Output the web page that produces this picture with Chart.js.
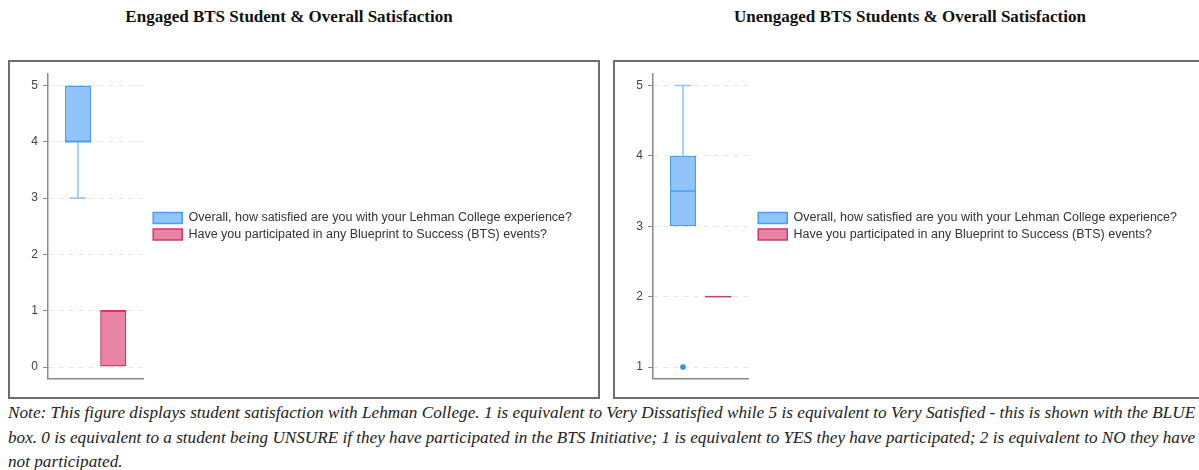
<!DOCTYPE html>
<html>
<head>
<meta charset="utf-8">
<script src="https://cdn.jsdelivr.net/npm/chart.js@4.4.1/dist/chart.umd.min.js"></script>
<style>
  html, body { margin: 0; padding: 0; background: #fff; }
  body { width: 1199px; height: 470px; position: relative; overflow: hidden; }
  .title {
    position: absolute; top: 7px; transform: translateX(-50%);
    font-family: "Liberation Serif", "Times New Roman", serif;
    font-weight: bold; font-size: 17px; color: #111; white-space: nowrap;
  }
  .panel { position: absolute; top: 60px; height: 339px; border: 2px solid #6e6e6e; box-sizing: border-box; }
  .chart { position: absolute; top: 62px; width: 562px; height: 334px; }
  .note {
    position: absolute; left: 8px; white-space: nowrap; transform-origin: left center;
    font-family: "Liberation Serif", "Times New Roman", serif;
    font-style: italic; font-size: 17.5px; color: #222;
  }
</style>
</head>
<body>
<div class="title" style="left:289px">Engaged BTS Student &amp; Overall Satisfaction</div>
<div class="title" style="left:910px">Unengaged BTS Students &amp; Overall Satisfaction</div>

<div class="panel" style="left:8px;width:592px"></div>
<div class="panel" style="left:613px;width:600px"></div>

<div class="chart" style="left:20px"><canvas id="engaged"></canvas></div>
<div class="chart" style="left:625px"><canvas id="unengaged"></canvas></div>

<div class="note" style="top:402px">Note: This figure displays student satisfaction with Lehman College. 1 is equivalent to Very Dissatisfied while 5 is equivalent to Very Satisfied - this is shown with the BLUE</div>
<div class="note" style="top:427px">box. 0 is equivalent to a student being UNSURE if they have participated in the BTS Initiative; 1 is equivalent to YES they have participated; 2 is equivalent to NO they have</div>
<div class="note" style="top:451px">not participated.</div>

<script>
// Survey questions (one box per question)
const categories = [''];
const questionLabels = [
  'Overall, how satisfied are you with your Lehman College experience?',
  'Have you participated in any Blueprint to Success (BTS) events?'
];

// Five-number summaries: [min, q1, median, q3, max]
const engagedSatisfaction     = [3, 4, 4, 5, 5];
const engagedParticipation    = [0, 0, 1, 1, 1];
const unengagedSatisfaction   = [3, 3, 3.5, 4, 5];
const unengagedParticipation  = [2, 2, 2, 2, 2];

// Points outside the whiskers
const engagedSatisfactionOutliers    = [];
const engagedParticipationOutliers   = [];
const unengagedSatisfactionOutliers  = [1];
const unengagedParticipationOutliers = [];

// Value axis ranges and tick labels
const engagedRange   = [-0.2, 5.2];
const unengagedRange = [0.84, 5.16];
const engagedTicks   = [0, 1, 2, 3, 4, 5];
const unengagedTicks = [1, 2, 3, 4, 5];

const BLUE = { fill: 'rgba(54,150,245,0.55)', border: '#4a9ef0', whisker: '#8cc3f8', dot: '#2f8fef' };
const PINK = { fill: 'rgba(214,40,100,0.57)', border: '#d9336b', whisker: '#e889a8', dot: '#d9336b' };

function boxDataset(label, summary, outliers, pal) {
  return {
    label,
    data: [[summary[1], summary[3]]],
    summary,
    outliers,
    backgroundColor: pal.fill,
    borderColor: pal.border,
    borderWidth: 1.5,
    borderSkipped: false,
    whiskerColor: pal.whisker,
    dotColor: pal.dot,
    categoryPercentage: 0.74,
    barPercentage: 0.74
  };
}

// Whiskers, median line and outlier dots drawn on top of the floating bars
const boxWhiskers = {
  id: 'boxWhiskers',
  afterDatasetsDraw(chart) {
    const ctx = chart.ctx;
    const ys = chart.scales.y;
    chart.data.datasets.forEach((ds, i) => {
      const bar = chart.getDatasetMeta(i).data[0];
      if (!bar) return;
      const [mn, q1, med, q3, mx] = ds.summary;
      const x = bar.x, w = bar.width, cap = w * 0.62;
      ctx.save();
      ctx.lineWidth = 1.5;
      ctx.strokeStyle = ds.whiskerColor;
      const seg = (x1, y1, x2, y2) => { ctx.beginPath(); ctx.moveTo(x1, y1); ctx.lineTo(x2, y2); ctx.stroke(); };
      if (mx > q3) {
        seg(x, ys.getPixelForValue(q3), x, ys.getPixelForValue(mx));
        seg(x - cap / 2, ys.getPixelForValue(mx), x + cap / 2, ys.getPixelForValue(mx));
      }
      if (mn < q1) {
        seg(x, ys.getPixelForValue(q1), x, ys.getPixelForValue(mn));
        seg(x - cap / 2, ys.getPixelForValue(mn), x + cap / 2, ys.getPixelForValue(mn));
      }
      ctx.strokeStyle = ds.borderColor;
      const ym = ys.getPixelForValue(med);
      seg(x - w / 2, ym, x + w / 2, ym);
      ctx.fillStyle = ds.dotColor;
      ds.outliers.forEach(v => {
        ctx.beginPath();
        ctx.arc(x, ys.getPixelForValue(v), 2.8, 0, Math.PI * 2);
        ctx.fill();
      });
      ctx.restore();
    });
  }
};

function makeChart(id, sat, satOut, part, partOut, range, ticks) {
  return new Chart(document.getElementById(id), {
    type: 'bar',
    data: {
      labels: categories,
      datasets: [
        boxDataset(questionLabels[0], sat, satOut, BLUE),
        boxDataset(questionLabels[1], part, partOut, PINK)
      ]
    },
    options: {
      responsive: true,
      maintainAspectRatio: false,
      animation: false,
      layout: { padding: { top: 12, bottom: 0, left: 0, right: 0 } },
      scales: {
        x: {
          grid: { display: false },
          ticks: { display: false },
          border: { display: true, color: '#8a8a8a', width: 1.5 },
          afterFit(s) { s.height = 17.7; }
        },
        y: {
          min: range[0],
          max: range[1],
          afterBuildTicks(s) { s.ticks = ticks.map(v => ({ value: v })); },
          ticks: {
            padding: 5,
            color: '#444',
            font: { family: '"Liberation Sans", Arial, sans-serif', size: 12 }
          },
          grid: { color: '#e6e6e6', lineWidth: 1, tickColor: '#8a8a8a', tickLength: 5, tickWidth: 1 },
          border: { display: true, color: '#8a8a8a', width: 1.5, dash: [5, 5] },
          afterFit(s) { s.width = 28; }
        },
        gap: {
          type: 'linear',
          position: 'right',
          grid: { display: false },
          ticks: { display: false },
          border: { display: false },
          afterFit(s) { s.width = 6; }
        }
      },
      plugins: {
        tooltip: { enabled: false },
        legend: {
          position: 'right',
          align: 'center',
          fullSize: false,
          maxWidth: 1000,
          labels: {
            boxWidth: 29,
            boxHeight: 11,
            padding: 4,
            color: '#333',
            font: { family: '"Liberation Sans", Arial, sans-serif', size: 12.5 }
          }
        }
      }
    },
    plugins: [boxWhiskers]
  });
}

makeChart('engaged', engagedSatisfaction, engagedSatisfactionOutliers,
  engagedParticipation, engagedParticipationOutliers, engagedRange, engagedTicks);
makeChart('unengaged', unengagedSatisfaction, unengagedSatisfactionOutliers,
  unengagedParticipation, unengagedParticipationOutliers, unengagedRange, unengagedTicks);

// Stretch the first two note lines to the full text width; the last line follows their scale
const notes = document.querySelectorAll('.note');
const full = 1187;
const k1 = full / notes[0].scrollWidth;
const k2 = full / notes[1].scrollWidth;
notes[0].style.transform = 'scaleX(' + k1 + ')';
notes[1].style.transform = 'scaleX(' + k2 + ')';
notes[2].style.transform = 'scaleX(' + ((k1 + k2) / 2) + ')';
</script>
</body>
</html>
